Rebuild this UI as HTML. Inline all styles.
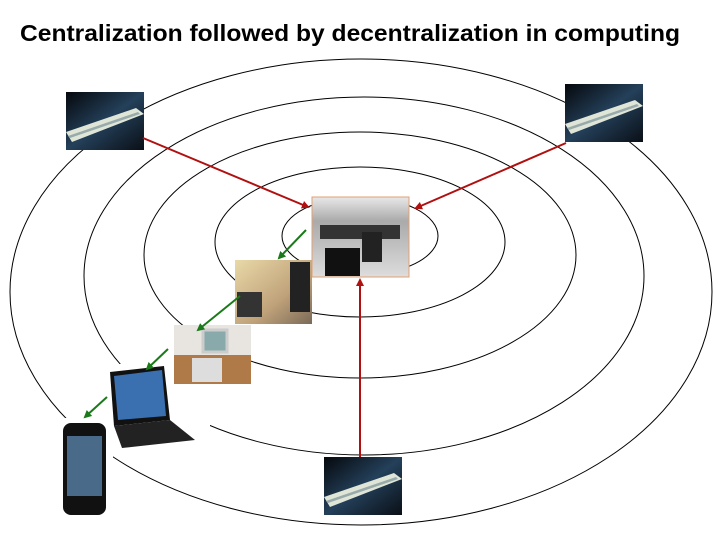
<!DOCTYPE html>
<html><head><style>html,body{margin:0;padding:0;background:#fff;}svg{display:block}</style></head>
<body>
<svg width="720" height="540" viewBox="0 0 720 540" xmlns="http://www.w3.org/2000/svg">
<defs>
<linearGradient id="sr" x1="0" y1="0" x2="1" y2="1">
<stop offset="0" stop-color="#05080c"/><stop offset="0.5" stop-color="#24405a"/><stop offset="1" stop-color="#0a0f16"/></linearGradient>
<linearGradient id="mf" x1="0" y1="0" x2="0" y2="1">
<stop offset="0" stop-color="#e8e8e8"/><stop offset="0.3" stop-color="#aaa"/><stop offset="1" stop-color="#ddd"/></linearGradient>
<linearGradient id="mini" x1="0" y1="0" x2="1" y2="1">
<stop offset="0" stop-color="#e9d9a8"/><stop offset="0.6" stop-color="#c0a27a"/><stop offset="1" stop-color="#7a6a58"/></linearGradient>
<marker id="ar" markerWidth="8" markerHeight="8" refX="6" refY="4" orient="auto" markerUnits="userSpaceOnUse"><path d="M0,0 L8,4 L0,8 z" fill="#b01010"/></marker>
<marker id="ag" markerWidth="8" markerHeight="8" refX="6" refY="4" orient="auto" markerUnits="userSpaceOnUse"><path d="M0,0 L8,4 L0,8 z" fill="#1a7a1a"/></marker>
<g id="rule"><rect width="78" height="58" fill="url(#sr)"/><polygon points="0,40 70,16 78,22 6,50" fill="#dfe6d8"/><polygon points="2,44 72,20 74,22 4,46" fill="#9aa" /></g>
</defs>
<text x="20" y="41" font-family="Liberation Sans, sans-serif" font-weight="bold" font-size="23" textLength="660" lengthAdjust="spacingAndGlyphs">Centralization followed by decentralization in computing</text>
<g fill="none" stroke="#000" stroke-width="1">
<ellipse cx="360" cy="236" rx="78" ry="39"/>
<ellipse cx="360" cy="242" rx="145" ry="75"/>
<ellipse cx="360" cy="255" rx="216" ry="123"/>
<ellipse cx="364" cy="276" rx="280" ry="179"/>
<ellipse cx="361" cy="292" rx="351" ry="233"/>
</g>
<rect x="108" y="364" width="102" height="86" fill="#fff"/>
<rect x="58" y="418" width="55" height="100" fill="#fff"/>
<use href="#rule" x="66" y="92"/>
<use href="#rule" x="565" y="84"/>
<use href="#rule" x="324" y="457"/>
<rect x="312" y="197" width="97" height="80" fill="url(#mf)" stroke="#e0a070" stroke-width="1"/>
<rect x="320" y="225" width="80" height="14" fill="#333"/>
<rect x="325" y="248" width="35" height="28" fill="#111"/>
<rect x="362" y="232" width="20" height="30" fill="#222"/>
<rect x="235" y="260" width="77" height="64" fill="url(#mini)"/>
<rect x="290" y="262" width="20" height="50" fill="#222"/>
<rect x="237" y="292" width="25" height="25" fill="#333"/>
<rect x="174" y="325" width="77" height="59" fill="#e8e4e0"/>
<rect x="174" y="355" width="77" height="29" fill="#b07a48"/>
<rect x="203" y="330" width="24" height="22" fill="#8aa" stroke="#ccc" stroke-width="3"/>
<rect x="192" y="358" width="30" height="24" fill="#ddd"/>
<polygon points="110,372 164,366 170,420 114,426" fill="#111"/>
<polygon points="114,376 162,370 166,416 118,420" fill="#3a6fb0"/>
<polygon points="114,426 170,420 195,440 122,448" fill="#222"/>
<rect x="63" y="423" width="43" height="92" rx="8" fill="#111"/>
<rect x="67" y="436" width="35" height="60" fill="#4a6a8a"/>
<g stroke="#b01010" stroke-width="2" fill="none">
<line x1="143" y1="138" x2="308" y2="207" marker-end="url(#ar)"/>
<line x1="566" y1="143" x2="416" y2="208" marker-end="url(#ar)"/>
<line x1="360" y1="457" x2="360" y2="280" marker-end="url(#ar)"/>
</g>
<g stroke="#1a7a1a" stroke-width="2" fill="none">
<line x1="306" y1="230" x2="279" y2="258" marker-end="url(#ag)"/>
<line x1="240" y1="296" x2="198" y2="330" marker-end="url(#ag)"/>
<line x1="168" y1="349" x2="147" y2="369" marker-end="url(#ag)"/>
<line x1="107" y1="397" x2="85" y2="417" marker-end="url(#ag)"/>
</g>
</svg>
</body></html>
